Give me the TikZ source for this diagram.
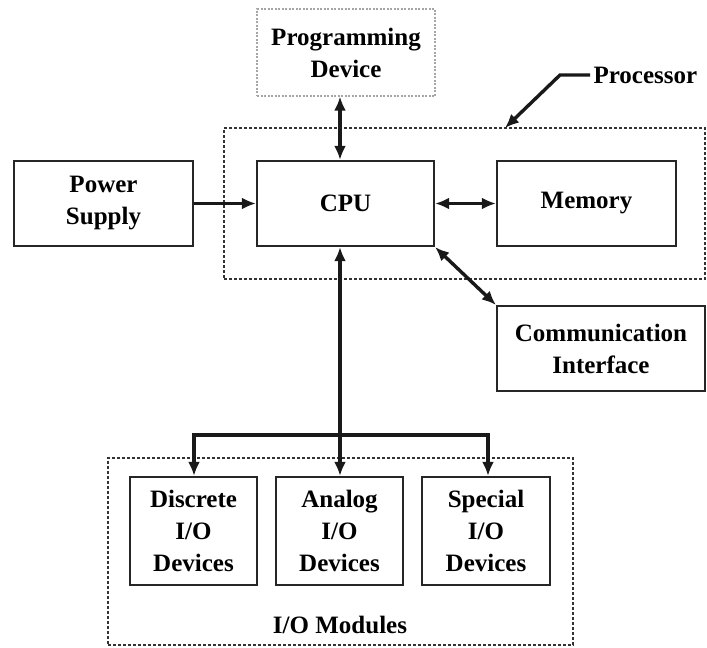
\documentclass[tikz,border=0pt]{standalone}
\usepackage{fontspec}
\setmainfont{Liberation Serif}
\usetikzlibrary{arrows.meta}
\begin{document}
\begin{tikzpicture}[x=1pt,y=-1pt,
  lbl/.style={font=\bfseries\fontsize{25}{32}\selectfont, align=center},
  blk/.style={lbl, draw=black!85, line width=2.2pt, rectangle, inner sep=0pt},
  conn/.style={line width=3.4pt, black!90},
  tip/.style={-{Latex[length=14pt,width=12pt]}},
  tips/.style={{Latex[length=14pt,width=12pt]}-{Latex[length=14pt,width=12pt]}},
  grp/.style={draw=black!80, line width=1.6pt, dash pattern=on 3pt off 2pt}
]
\useasboundingbox (0,0) rectangle (707,648);
% group frames
\node[grp, minimum width=481pt, minimum height=151pt, inner sep=0pt] (pbox) at (464.5,203.5) {};
\node[grp, minimum width=465pt, minimum height=187pt, inner sep=0pt] (iobox) at (340.5,551.5) {};
% blocks
\node[lbl, draw=black!35, line width=1.2pt, dash pattern=on 2pt off 1.5pt, minimum width=178pt, minimum height=87pt] (prog) at (346,52.5) {Programming\\Device};
\node[blk, minimum width=177pt, minimum height=85pt] (cpu) at (345.5,203.5) {CPU};
\node[blk, minimum width=179pt, minimum height=85pt] (mem) at (586.5,203.5) {Memory};
\node[blk, minimum width=179pt, minimum height=85pt] (pow) at (103.5,203.5) {Power\\Supply};
\node[blk, minimum width=208pt, minimum height=85pt] (comm) at (601,348.5) {Communication\\Interface};
\node[blk, minimum width=127pt, minimum height=108pt] (disc) at (193.5,531) {Discrete\\I/O\\Devices};
\node[blk, minimum width=127pt, minimum height=108pt] (ana) at (339.5,531) {Analog\\I/O\\Devices};
\node[blk, minimum width=128pt, minimum height=108pt] (spec) at (486,531) {Special\\I/O\\Devices};
\node[lbl] (iolbl) at (340,625) {I/O Modules};
\node[lbl, anchor=west] (plbl) at (590,75) {Processor};
% connectors
\coordinate (x0) at (340,0);
\draw[conn, tips] (prog.south -| x0) -- (cpu.north -| x0);
\draw[conn, tip] (pow.east) -- (cpu.west);
\draw[conn, tips] (cpu.east) -- (mem.west);
\draw[conn, tips] (cpu.south east) -- (comm.north west);
\draw[conn, tips] (cpu.south -| x0) -- (ana.north -| x0);
\coordinate (busL) at (194,435);
\coordinate (busR) at (488,435);
\draw[conn, line cap=rect] (busL) -- (busR);
\draw[conn, tip] (busL) -- (disc.north -| busL);
\draw[conn, tip] (busR) -- (spec.north -| busR);
\coordinate (ptip) at (505,128);
\draw[conn, tip] (plbl.west) -- ++(-30,0) -- (ptip);
\end{tikzpicture}
\end{document}
